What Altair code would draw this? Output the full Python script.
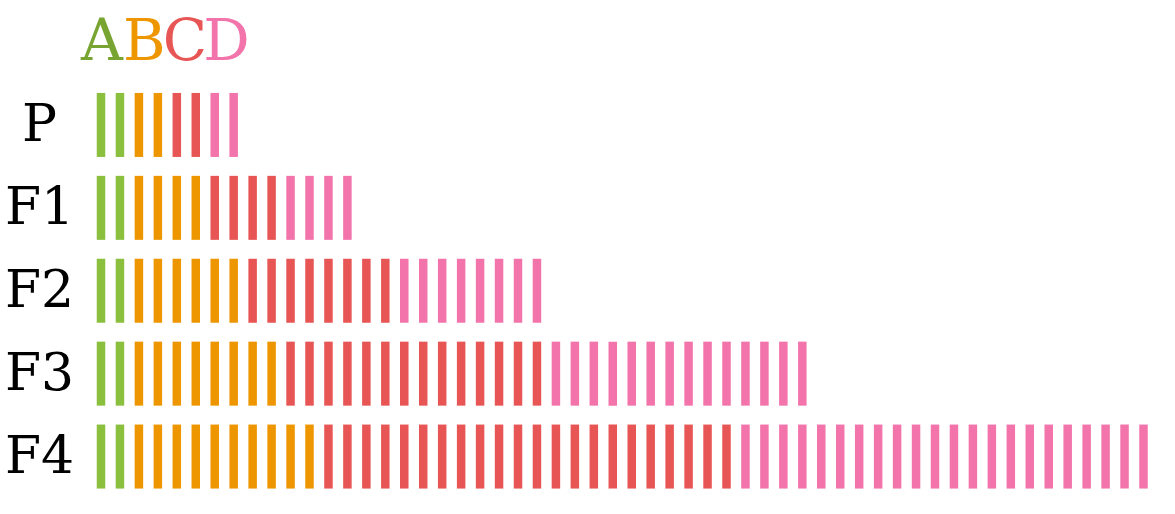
import altair as alt
import pandas as pd

rows = ["P", "F1", "F2", "F3", "F4"]
cats = ["A", "B", "C", "D"]
a_counts = [2, 2, 2, 2, 2]
b_counts = [2, 4, 6, 8, 10]
c_counts = [2, 4, 8, 14, 22]
d_counts = [2, 4, 8, 14, 22]

tick_colors = ["#8BBF3E", "#EE9600", "#E85555", "#F274AB"]
text_colors = ["#78A532", "#EE9600", "#E85555", "#F274AB"]

records = []
for i, r in enumerate(rows):
    idx = 0
    for cat, counts in zip(cats, [a_counts, b_counts, c_counts, d_counts]):
        for _ in range(counts[i]):
            records.append({"row": r, "idx": idx, "cat": cat})
            idx += 1
df = pd.DataFrame(records)

ticks = alt.Chart(df).mark_tick(thickness=8.5, size=64, opacity=1, orient="vertical").encode(
    x=alt.X("idx:Q", scale=alt.Scale(domain=[0, 55], nice=False, zero=False), axis=None),
    y=alt.Y("row:N", sort=rows, scale=alt.Scale(paddingInner=0, paddingOuter=0),
            axis=alt.Axis(title=None, domain=False, ticks=False, tickSize=0, labelPadding=62,
                          labelFont="DejaVu Serif", labelFontSize=52, labelColor="black",
                          labelAlign="center", labelBaseline="middle")),
    color=alt.Color("cat:N", scale=alt.Scale(domain=cats, range=tick_colors), legend=None),
)

fs = 58
adv = [0.722, 0.686, 0.698, 0.770]
headers = []
xpos = -20.0
for cat, col, a in zip(cats, text_colors, adv):
    headers.append(
        alt.Chart(pd.DataFrame({"t": [cat]})).mark_text(
            font="DejaVu Serif", fontSize=fs, align="left", baseline="alphabetic", color=col
        ).encode(text="t:N", x=alt.value(xpos), y=alt.value(-23.5))
    )
    xpos += a * fs

chart = alt.layer(ticks, *headers).properties(
    width=1042.5, height=414.5, autosize="none",
    padding={"left": 101, "top": 83.5, "right": 20, "bottom": 10},
).configure_view(stroke=None)

chart.save("out.html", embed_options={"renderer": "svg", "actions": False})
